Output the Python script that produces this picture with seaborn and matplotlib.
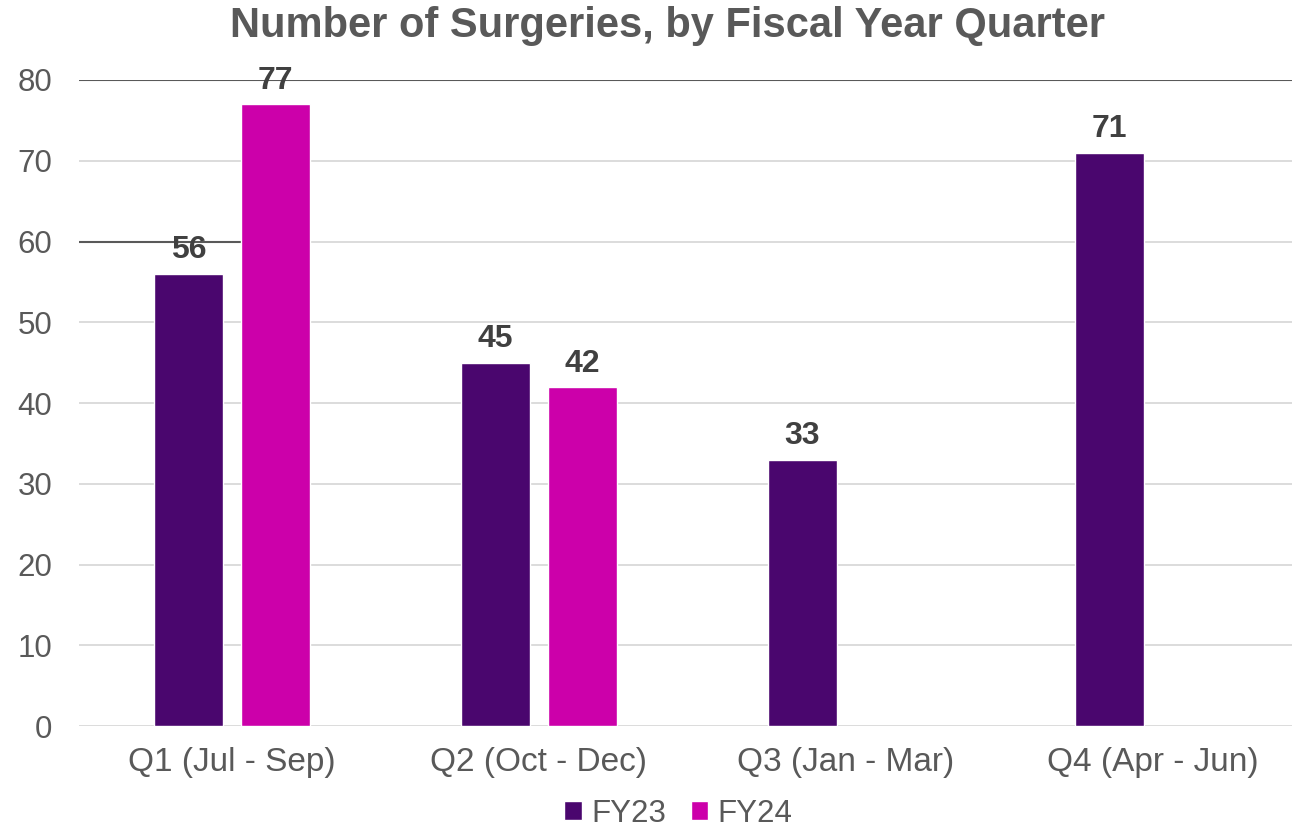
import matplotlib
matplotlib.use("Agg")
import matplotlib.pyplot as plt
import pandas as pd
import seaborn as sns
from matplotlib.patches import Patch

quarters = ["Q1 (Jul - Sep)", "Q2 (Oct - Dec)", "Q3 (Jan - Mar)", "Q4 (Apr - Jun)"]
years = ["FY23", "FY24"]
fy23 = [56, 45, 33, 71]
fy24 = [77, 42, None, None]
colors = ["#4A066E", "#CC00AA"]
y_ticks = [0, 10, 20, 30, 40, 50, 60, 70, 80]

rows = []
for q, a, b in zip(quarters, fy23, fy24):
    rows.append({"quarter": q, "year": "FY23", "count": a})
    if b is not None:
        rows.append({"quarter": q, "year": "FY24", "count": b})
df = pd.DataFrame(rows)

sns.set_theme(style="white")
plt.rcParams["font.family"] = ["Liberation Sans", "DejaVu Sans"]

fig = plt.figure(figsize=(12.92, 8.35), dpi=100)
ax = fig.add_axes([0.0608, 0.1305, 0.95, 0.7737])

sns.barplot(data=df, x="quarter", y="count", hue="year", order=quarters,
            hue_order=years, palette=colors, width=0.567, gap=0.207,
            saturation=1, errorbar=None, legend=False, ax=ax, zorder=3)

ax.set_ylim(0, 80)
ax.set_xlim(-0.5, len(quarters) - 0.5)
ax.set_yticks(y_ticks)
ax.yaxis.grid(True, color="#D9D9D9", linewidth=1.3, zorder=0)
ax.set_axisbelow(True)
for s in ax.spines.values():
    s.set_visible(False)
ax.axhline(80, color="#595959", linewidth=1.5, zorder=1)
pink_q1 = ax.containers[1].patches[0]
ax.hlines(60, -0.5, pink_q1.get_x(), color="#595959", linewidth=1.5, zorder=1)

ax.tick_params(axis="y", length=0, pad=19, labelsize=22.5, labelcolor="#595959")
ax.tick_params(axis="x", length=0, pad=15, labelsize=24, labelcolor="#595959")
ax.set_xlabel("")
ax.set_ylabel("")

for c in ax.containers:
    ax.bar_label(c, fmt="%d", padding=6, fontsize=23, fontweight="bold", color="#404040")

fig.text(0.517, 0.969, "Number of Surgeries, by Fiscal Year Quarter", ha="center", va="center",
         fontsize=30, fontweight="bold", color="#595959")

handles = [Patch(facecolor=c, label=y) for c, y in zip(colors, years)]
fig.legend(handles=handles, loc="lower center", bbox_to_anchor=(0.525, -0.026), ncol=2,
           frameon=False, fontsize=22.5, labelcolor="#595959", handlelength=0.55,
           handleheight=0.55, handletextpad=0.3, columnspacing=0.8)

fig.savefig("out.png", dpi=100)
